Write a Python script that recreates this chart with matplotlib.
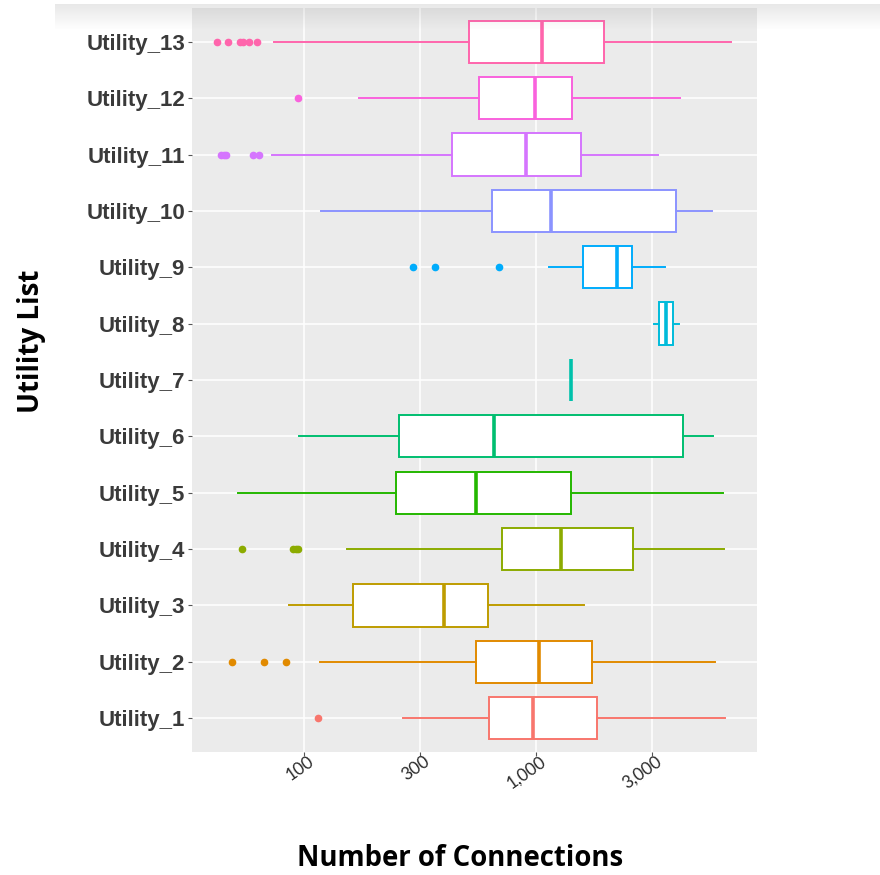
import numpy as np
import matplotlib.pyplot as plt
from matplotlib.ticker import FixedLocator, FixedFormatter, NullLocator
from matplotlib.transforms import ScaledTranslation

utilities = [f"Utility_{i}" for i in range(1, 14)]

# five-number summaries per utility (connections)
q1 = [626, 549, 162, 714, 250, 256, 1422, 3397, 1596, 647, 434, 566, 512]
medians = [970, 1026, 400, 1276, 552, 659, 1422, 3624, 2240, 1156, 910, 993, 1064]
q3 = [1833, 1750, 620, 2612, 1422, 4298, 1422, 3908, 2587, 3999, 1556, 1432, 1968]
whisker_lo = [266, 117, 86, 153, 52, 95, 1422, 3213, 1143, 118, 73, 173, 74]
whisker_hi = [6515, 5910, 1614, 6441, 6398, 5808, 1422, 4140, 3606, 5740, 3357, 4169, 6934]
outliers = [
    [115],
    [49, 67, 84],
    [],
    [54, 90, 92, 94],
    [],
    [],
    [],
    [],
    [296, 366, 690],
    [],
    [44, 45, 46, 60, 64],
    [94],
    [42, 47, 53, 54.5, 58, 63],
]

tick_values = [100, 10 ** 2.5, 1000, 10 ** 3.5]
tick_labels = ["100", "300", "1,000", "3,000"]

# ggplot2 default hue palette for 13 groups
colors = ["#F8766D", "#E18A00", "#BE9C00", "#8CAB00", "#24B700", "#00BE70",
          "#00C1AB", "#00BBDA", "#00ACFC", "#8B93FF", "#D575FE", "#F962DD", "#FF65AC"]

W, H = 880, 875
fig = plt.figure(figsize=(W / 100, H / 100), dpi=100)
ax = fig.add_axes([192 / W, 1 - 752 / H, 565 / W, 744 / H])
ax.set_facecolor("#EBEBEB")

stats = [dict(label=u, q1=a, med=m, q3=b, whislo=lo, whishi=hi, fliers=f)
         for u, a, m, b, lo, hi, f in zip(utilities, q1, medians, q3,
                                          whisker_lo, whisker_hi, outliers)]
positions = np.arange(1, len(utilities) + 1)

art = ax.bxp(stats, positions=positions, widths=0.75, orientation="horizontal",
             patch_artist=True, showcaps=False, manage_ticks=False, zorder=3)

for i, c in enumerate(colors):
    box = art["boxes"][i]
    box.set_facecolor("white")
    box.set_edgecolor(c)
    box.set_linewidth(1.4)
    art["medians"][i].set_color(c)
    art["medians"][i].set_linewidth(2.6)
    for w in art["whiskers"][2 * i:2 * i + 2]:
        w.set_color(c)
        w.set_linewidth(1.4)
    fl = art["fliers"][i]
    fl.set_marker("o")
    fl.set_markerfacecolor(c)
    fl.set_markeredgecolor(c)
    fl.set_markersize(4.5)

ax.set_xscale("log")
ax.set_xlim(32.9, 8968)
ax.set_ylim(0.4, len(utilities) + 0.6)
ax.xaxis.set_major_locator(FixedLocator(tick_values))
ax.xaxis.set_major_formatter(FixedFormatter(tick_labels))
ax.xaxis.set_minor_locator(NullLocator())
ax.set_yticks(positions)
ax.set_yticklabels(utilities)

ax.grid(True, color="white", linewidth=1.1)
ax.set_axisbelow(True)
for s in ax.spines.values():
    s.set_visible(False)

ax.tick_params(axis="both", length=3, width=0.8, color="#555555")
ax.tick_params(axis="y", pad=2)
ax.tick_params(axis="x", pad=0)
for lab in ax.get_yticklabels():
    lab.set_fontfamily("Liberation Sans")
    lab.set_fontweight("bold")
    lab.set_fontsize(16)
    lab.set_color("#3a3a3a")

# rotated x labels sit slightly right of and close under their ticks
shift = ScaledTranslation(4 / 100, 3 / 100, fig.dpi_scale_trans)
for lab in ax.get_xticklabels():
    lab.set_fontfamily("Lato")
    lab.set_fontsize(12.5)
    lab.set_color("#2a2a2a")
    lab.set_rotation(35)
    lab.set_ha("right")
    lab.set_va("top")
    lab.set_rotation_mode("anchor")
    lab.set_transform(lab.get_transform() + shift)

fig.text(460 / W, 1 - 858 / H, "Number of Connections", ha="center", va="center",
         fontsize=19.8, fontweight="bold", family="Open Sans", color="black")
fig.text(31 / W, 1 - 341 / H, "Utility List", ha="center", va="center", rotation=90,
         fontsize=20, fontweight="bold", family="Open Sans", color="black")

# soft shadow band along the top edge
shade = fig.add_axes([55 / W, 1 - 30 / H, 825 / W, 26 / H], zorder=5)
grad = np.zeros((50, 2, 4))
grad[..., :3] = 0.5
grad[..., 3] = np.linspace(0.18, 0.0, 50)[:, None]
shade.imshow(grad, aspect="auto", extent=[0, 1, 0, 1], origin="upper")
shade.axis("off")

fig.savefig("out.png", dpi=100, facecolor="white")
